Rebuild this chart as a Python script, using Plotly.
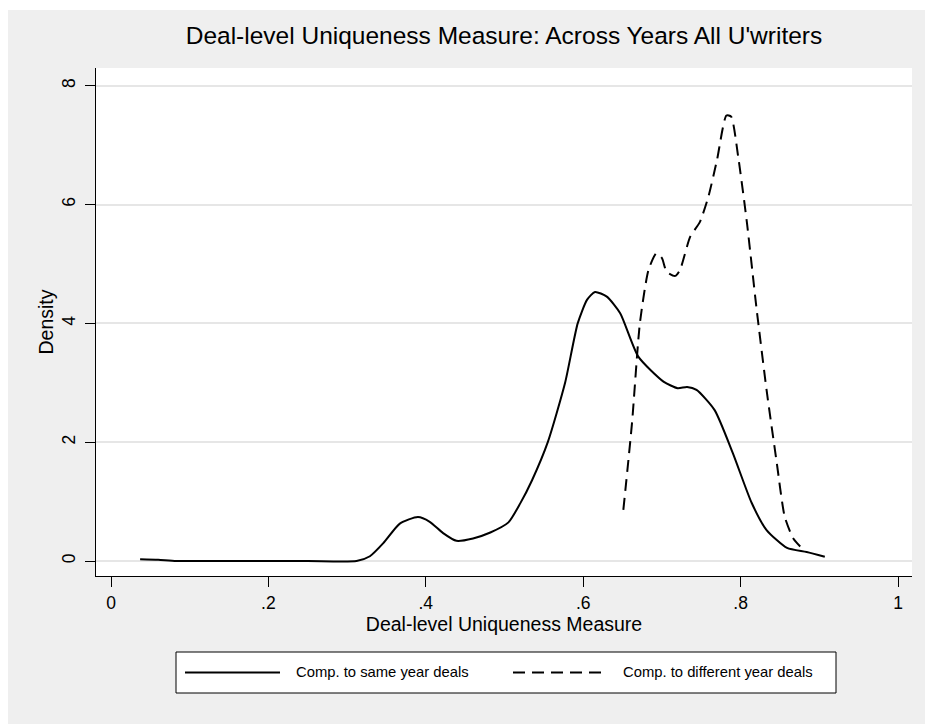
import plotly.graph_objects as go

# ---- data ----
same_x = [0.037, 0.06, 0.083, 0.15, 0.25, 0.312, 0.329, 0.346, 0.367, 0.390, 0.405,
          0.422, 0.439, 0.460, 0.482, 0.505, 0.520, 0.535, 0.555, 0.577, 0.593,
          0.605, 0.615, 0.630, 0.647, 0.670, 0.702, 0.720, 0.732, 0.744, 0.767,
          0.790, 0.814, 0.833, 0.859, 0.884, 0.907]
same_y = [0.03, 0.02, 0.0, 0.0, 0.0, 0.0, 0.08, 0.30, 0.63, 0.74, 0.66,
          0.47, 0.34, 0.38, 0.48, 0.65, 0.97, 1.36, 2.0, 3.0, 4.0,
          4.4, 4.53, 4.45, 4.17, 3.44, 3.02, 2.91, 2.93, 2.88, 2.54,
          1.82, 0.98, 0.52, 0.22, 0.15, 0.07]

diff_x = [0.651, 0.662, 0.672, 0.683, 0.693, 0.700, 0.706, 0.717, 0.723, 0.736,
          0.748, 0.759, 0.770, 0.782, 0.788, 0.797, 0.808, 0.820, 0.833, 0.846,
          0.856, 0.867, 0.882]
diff_y = [0.86, 2.32, 4.0, 4.9, 5.18, 5.1, 4.87, 4.8, 4.9, 5.46,
          5.7, 6.13, 6.75, 7.5, 7.48, 6.8, 5.7, 4.28, 2.88, 1.65,
          0.75, 0.38, 0.16]

series_names = ["Comp. to same year deals", "Comp. to different year deals"]
x_tick_vals = [0, 0.2, 0.4, 0.6, 0.8, 1.0]
x_tick_text = ["0", ".2", ".4", ".6", ".8", "1"]
y_tick_vals = [0, 2, 4, 6, 8]
y_tick_text = ["0", "2", "4", "6", "8"]

title_text = "Deal-level Uniqueness Measure: Across Years All U'writers"
x_title = "Deal-level Uniqueness Measure"
y_title = "Density"

FONT = "Liberation Sans, Arial, Helvetica, sans-serif"
DASH = "12px,7px"

fig = go.Figure()
fig.add_trace(go.Scatter(x=same_x, y=same_y, mode="lines", name=series_names[0],
                         line=dict(color="black", width=2, shape="spline", smoothing=0.6),
                         showlegend=False))
fig.add_trace(go.Scatter(x=diff_x, y=diff_y, mode="lines", name=series_names[1],
                         line=dict(color="black", width=2, dash=DASH, shape="spline", smoothing=0.6),
                         showlegend=False))

# layout geometry (pixels)
W, H = 925, 724
L, R, T, B = 96, 13, 68, 148
pw, ph = W - L - R, H - T - B

def px(xpix):
    return (xpix - L) / pw

def py(ypix):
    return (H - B - ypix) / ph

LEG_Y = 672.5
shapes = [
    # white strips around the grey outer region
    dict(type="rect", xref="paper", yref="paper", x0=px(-20), x1=px(8), y0=py(760), y1=py(-20),
         fillcolor="white", line=dict(width=0), layer="below"),
    dict(type="rect", xref="paper", yref="paper", x0=px(-20), x1=px(950), y0=py(10), y1=py(-20),
         fillcolor="white", line=dict(width=0), layer="below"),
    # legend box
    dict(type="rect", xref="paper", yref="paper", x0=px(176), x1=px(836), y0=py(693), y1=py(652),
         fillcolor="white", line=dict(color="black", width=1)),
    # legend samples
    dict(type="line", xref="paper", yref="paper", x0=px(185), x1=px(280), y0=py(LEG_Y), y1=py(LEG_Y),
         line=dict(color="black", width=2)),
    dict(type="line", xref="paper", yref="paper", x0=px(513), x1=px(606), y0=py(LEG_Y), y1=py(LEG_Y),
         line=dict(color="black", width=2, dash=DASH)),
]

annotations = [
    dict(text=series_names[0], xref="paper", yref="paper", x=px(294), y=py(LEG_Y),
         xanchor="left", yanchor="middle", showarrow=False, font=dict(size=14.8, color="black", family=FONT)),
    dict(text=series_names[1], xref="paper", yref="paper", x=px(621), y=py(LEG_Y),
         xanchor="left", yanchor="middle", showarrow=False, font=dict(size=14.8, color="black", family=FONT)),
]

fig.update_layout(
    width=W, height=H,
    margin=dict(l=L, r=R, t=T, b=B, pad=0),
    paper_bgcolor="#efefef",
    plot_bgcolor="white",
    font=dict(family=FONT, color="black"),
    title=dict(text=title_text, x=0.5, xref="paper", xanchor="center",
               y=1 - 35 / H, yref="container", yanchor="middle",
               font=dict(size=24.5, color="black", family=FONT)),
    shapes=shapes,
    annotations=annotations,
    showlegend=False,
)

fig.update_xaxes(
    range=[-15 / 787, (L + pw - 111) / 787],
    tickvals=x_tick_vals, ticktext=x_tick_text,
    ticks="outside", ticklen=10, tickwidth=1.2, tickcolor="black",
    showline=True, linecolor="black", linewidth=1.2,
    showgrid=False, zeroline=False,
    ticklabelstandoff=1,
    tickfont=dict(size=17.5, color="black"),
    title=dict(text=x_title, font=dict(size=19.5, color="black"), standoff=3),
)
fig.update_yaxes(
    range=[-(576 - 561) / 59.4, (561 - 68) / 59.4],
    tickvals=y_tick_vals, ticktext=y_tick_text, tickangle=-90,
    ticks="outside", ticklen=10, tickwidth=1.2, tickcolor="black",
    showline=True, linecolor="black", linewidth=1.2,
    showgrid=True, gridcolor="#e6e6e6", gridwidth=1.5, zeroline=False,
    ticklabelstandoff=3,
    tickfont=dict(size=17.5, color="black"),
    title=dict(text=y_title, font=dict(size=19.5, color="black"), standoff=0),
)

fig.write_html("out.html")
